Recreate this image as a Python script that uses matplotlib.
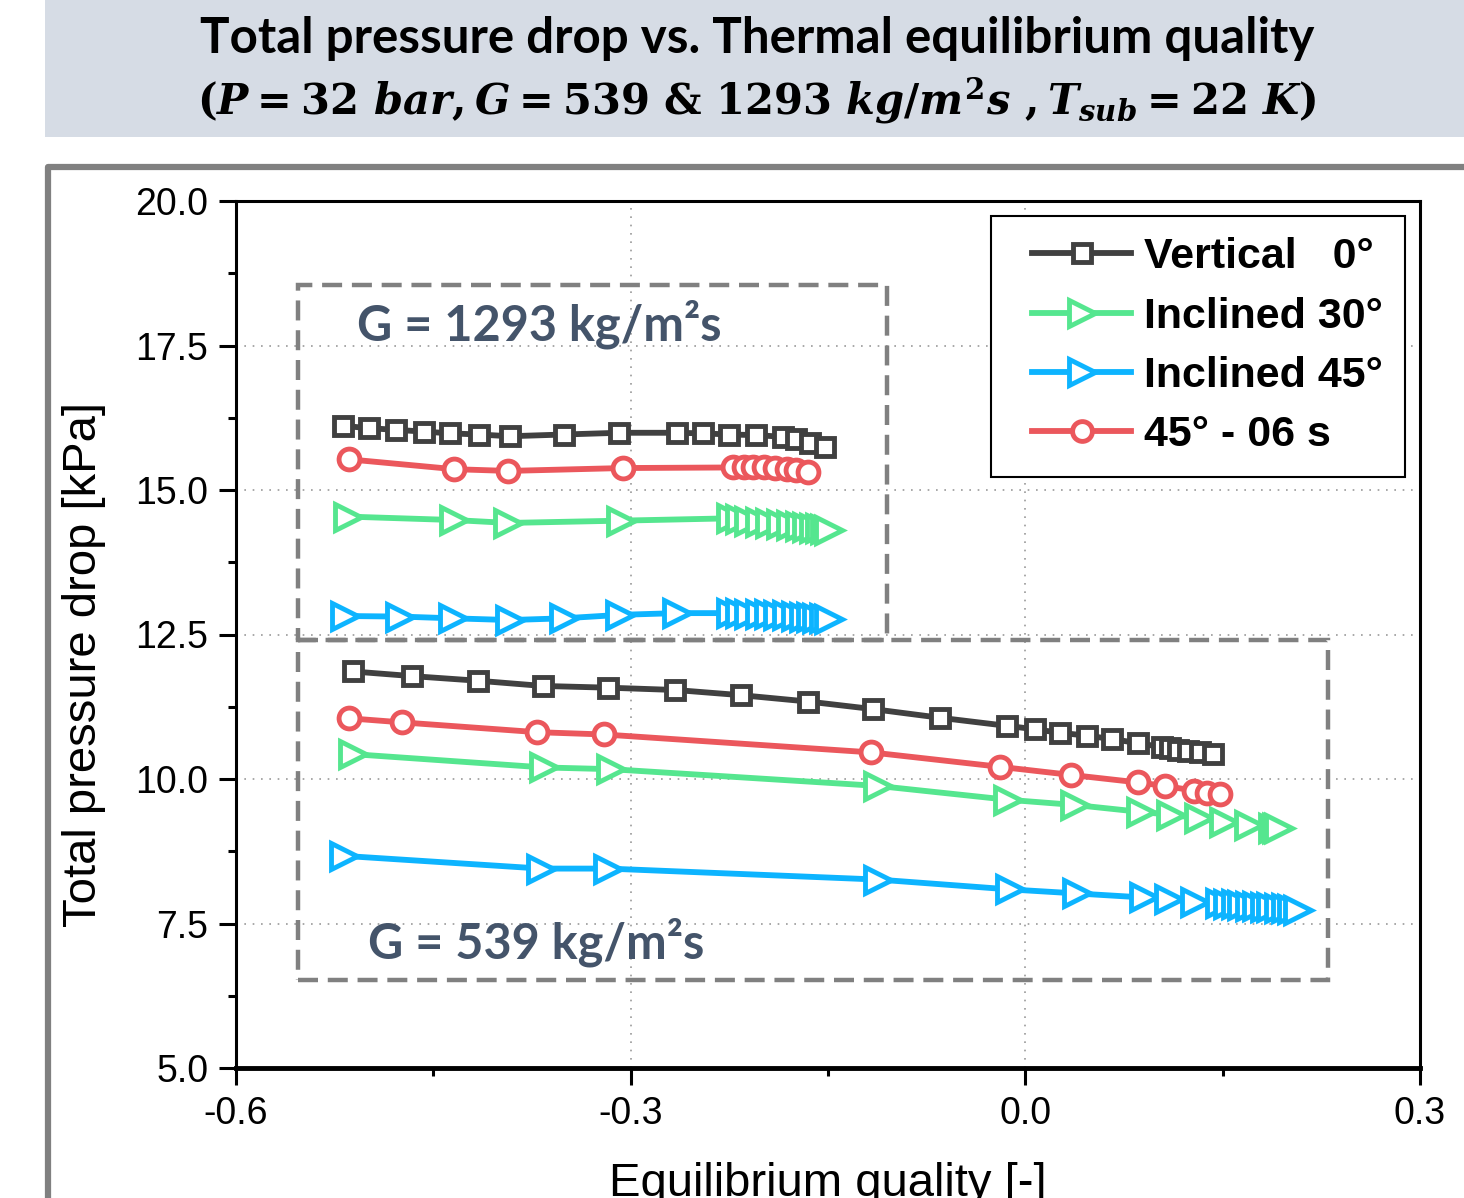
import numpy as np
import matplotlib
matplotlib.use("Agg")
import matplotlib.pyplot as plt
from matplotlib import rcParams
from matplotlib.patches import Rectangle
from matplotlib.lines import Line2D
from matplotlib.legend_handler import HandlerLine2D

rcParams['font.family'] = ['Liberation Sans', 'DejaVu Sans']
rcParams['mathtext.fontset'] = 'custom'
rcParams['mathtext.rm'] = 'DejaVu Serif:bold'
rcParams['mathtext.it'] = 'DejaVu Serif:italic:bold'
rcParams['mathtext.bf'] = 'DejaVu Serif:bold'

# ---- data: G = 1293 kg/m2s ----
x_v_hi = [-0.519, -0.499, -0.478, -0.457, -0.437, -0.415, -0.392, -0.351, -0.309,
          -0.265, -0.245, -0.225, -0.205, -0.184, -0.174, -0.164, -0.152]
y_v_hi = [16.11, 16.07, 16.04, 16.01, 15.98, 15.96, 15.93, 15.96, 15.99,
          15.99, 15.98, 15.96, 15.95, 15.92, 15.88, 15.82, 15.75]
x_30_hi = [-0.515, -0.434, -0.393, -0.307, -0.224, -0.217, -0.210, -0.202, -0.194,
           -0.186, -0.178, -0.171, -0.166, -0.161, -0.156, -0.152, -0.149]
y_30_hi = [14.54, 14.48, 14.43, 14.47, 14.51, 14.49, 14.47, 14.45, 14.43,
           14.41, 14.39, 14.37, 14.36, 14.35, 14.34, 14.32, 14.31]
x_45_hi = [-0.517, -0.475, -0.435, -0.392, -0.351, -0.308, -0.265, -0.224, -0.217,
           -0.210, -0.202, -0.195, -0.188, -0.181, -0.174, -0.168, -0.163, -0.158, -0.153, -0.149]
y_45_hi = [12.82, 12.81, 12.78, 12.75, 12.78, 12.84, 12.87, 12.87, 12.87,
           12.86, 12.86, 12.85, 12.84, 12.83, 12.82, 12.81, 12.80, 12.79, 12.78, 12.76]
x_06_hi = [-0.514, -0.434, -0.393, -0.306, -0.222, -0.214, -0.207, -0.199,
           -0.190, -0.181, -0.174, -0.165]
y_06_hi = [15.53, 15.36, 15.33, 15.38, 15.39, 15.39, 15.40, 15.39,
           15.38, 15.36, 15.35, 15.32]

# ---- data: G = 539 kg/m2s ----
x_v_lo = [-0.511, -0.466, -0.416, -0.367, -0.317, -0.266, -0.216, -0.165, -0.116,
          -0.065, -0.014, 0.0075, 0.026, 0.047, 0.066, 0.086, 0.104, 0.110, 0.116,
          0.124, 0.133, 0.143]
y_v_lo = [11.86, 11.78, 11.70, 11.61, 11.58, 11.54, 11.45, 11.34, 11.21,
          11.06, 10.92, 10.86, 10.80, 10.75, 10.69, 10.62, 10.55, 10.53, 10.51,
          10.49, 10.46, 10.43]
x_30_lo = [-0.511, -0.366, -0.315, -0.112, -0.013, 0.038, 0.088, 0.111, 0.132,
           0.151, 0.170, 0.188, 0.191, 0.193]
y_30_lo = [10.43, 10.20, 10.17, 9.88, 9.64, 9.55, 9.43, 9.38, 9.32,
           9.26, 9.20, 9.16, 9.15, 9.15]
x_45_lo = [-0.518, -0.368, -0.317, -0.112, -0.012, 0.039, 0.090, 0.109, 0.129,
           0.148, 0.154, 0.160, 0.165, 0.171, 0.176, 0.182, 0.187, 0.193, 0.198,
           0.203, 0.207]
y_45_lo = [8.67, 8.45, 8.45, 8.26, 8.09, 8.02, 7.95, 7.92, 7.88,
           7.85, 7.84, 7.83, 7.82, 7.81, 7.80, 7.79, 7.78, 7.77, 7.76,
           7.75, 7.74]
x_06_lo = [-0.514, -0.474, -0.371, -0.320, -0.117, -0.019, 0.035, 0.086, 0.106,
           0.128, 0.138, 0.148]
y_06_lo = [11.05, 10.98, 10.81, 10.77, 10.46, 10.21, 10.07, 9.94, 9.88,
           9.80, 9.76, 9.74]

labels = ["Vertical   0°", "Inclined 30°", "Inclined 45°", "45° - 06 s"]
colors = ["#404040", "#55e68f", "#0db4ff", "#eb575c"]
markers = ["s", ">", ">", "o"]
msizes = [13, 19, 19, 15]

fig = plt.figure(figsize=(14.64, 11.98), dpi=100)

# title band
fig.patches.append(Rectangle((45 / 1464, 1 - 137 / 1198), 1, 137 / 1198,
                             transform=fig.transFigure, facecolor="#d6dce5",
                             edgecolor="none", zorder=0))
fig.text(0.517, 0.968, "Total pressure drop vs. Thermal equilibrium quality",
         ha="center", va="center", fontsize=35.5, fontweight="bold",
         family="Lato", color="black")
fig.text(0.517, 0.916,
         r"$(P = 32\ bar, G = 539$ & $1293\ kg/m^2s\ , T_{sub} = 22\ K)$",
         ha="center", va="center", fontsize=30, color="black",
         family="DejaVu Serif", fontweight="bold")

# outer gray frame
fig.add_artist(Line2D([48 / 1464, 48 / 1464, 1.0], [0.0, 1 - 167 / 1198, 1 - 167 / 1198],
                      transform=fig.transFigure, color="#808080", lw=4.5,
                      solid_joinstyle="round"))

ax = fig.add_axes([236 / 1464, 1 - 1068 / 1198, (1420 - 236) / 1464, (1068 - 201) / 1198])

groups = [(x_v_hi, y_v_hi, x_v_lo, y_v_lo),
          (x_30_hi, y_30_hi, x_30_lo, y_30_lo),
          (x_45_hi, y_45_hi, x_45_lo, y_45_lo),
          (x_06_hi, y_06_hi, x_06_lo, y_06_lo)]
for i, (xh, yh, xl, yl) in enumerate(groups):
    kw = dict(color=colors[i], marker=markers[i], ms=msizes[i], mfc="white",
              mec=colors[i], mew=3.5, lw=4.2, zorder=3)
    ax.plot(xh, yh, label=labels[i], **kw)
    ax.plot(xl, yl, **kw)

# dashed group boxes
ax.add_patch(Rectangle((-0.553, 12.40), 0.448, 6.15, fill=False, ec="#808080",
                       lw=3.2, ls=(0, (4.5, 2.2)), zorder=2))
ax.add_patch(Rectangle((-0.553, 6.52), 0.783, 5.88, fill=False, ec="#808080",
                       lw=3.2, ls=(0, (4.5, 2.2)), zorder=2))
ax.text(-0.508, 17.86, "G = 1293 kg/m²s", fontsize=35, fontweight="bold",
        family="Lato", color="#44546a", va="center")
ax.text(-0.500, 7.18, "G = 539 kg/m²s", fontsize=35, fontweight="bold",
        family="Lato", color="#44546a", va="center")

ax.set_xlim(-0.6, 0.3)
ax.set_ylim(5.0, 20.0)
ax.set_xticks([-0.6, -0.3, 0.0, 0.3])
ax.set_xticks([-0.45, -0.15, 0.15], minor=True)
ax.set_yticks([5.0, 7.5, 10.0, 12.5, 15.0, 17.5, 20.0])
ax.set_yticks(np.arange(6.25, 20, 2.5), minor=True)
ax.xaxis.set_major_formatter(matplotlib.ticker.FormatStrFormatter("%.1f"))
ax.yaxis.set_major_formatter(matplotlib.ticker.FormatStrFormatter("%.1f"))
ax.tick_params(axis="both", which="major", direction="out", length=12, width=2.2,
               labelsize=27, pad=8)
ax.tick_params(axis="both", which="minor", direction="out", length=6, width=2.2)
ax.grid(True, which="major", ls=(0, (1, 4)), color="#999999", lw=1.2)

for s in ["left", "top", "right"]:
    ax.spines[s].set_linewidth(2.2)
ax.spines["bottom"].set_linewidth(3.5)

ax.set_xlabel("Equilibrium quality [-]", fontsize=34)
ax.set_ylabel("Total pressure drop [kPa]", fontsize=34)
ax.xaxis.set_label_coords(0.5, -0.108)
ax.yaxis.set_label_coords(-0.11, 0.465)

leg = ax.legend(loc="upper right", bbox_to_anchor=(0.987, 0.983), borderaxespad=0,
                fancybox=False, edgecolor="black", framealpha=1,
                prop={"weight": "bold", "size": 31}, handlelength=2.75,
                handletextpad=0.3, labelspacing=0.45, borderpad=0.5, markerscale=0.95,
                handler_map={Line2D: HandlerLine2D(xpad=0.45)})
leg.get_frame().set_linewidth(1.5)

fig.savefig("out.png", dpi=100)
